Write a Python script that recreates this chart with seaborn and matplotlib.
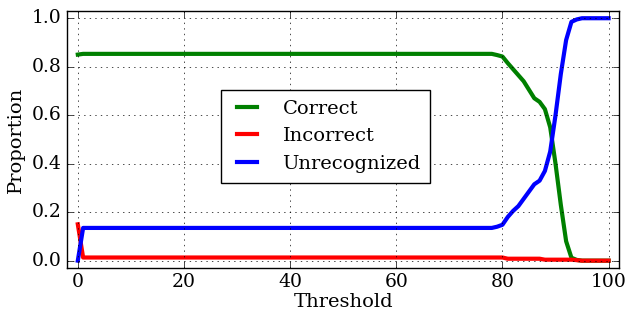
import numpy as np
import pandas as pd
import matplotlib
matplotlib.use('Agg')
import matplotlib.pyplot as plt
import seaborn as sns

threshold = list(range(0, 101))

# one value per threshold step
correct = ([0.85] + [0.853] * 78 +
           [0.848, 0.842, 0.815, 0.79, 0.765, 0.74, 0.705, 0.67, 0.655, 0.625,
            0.55, 0.40, 0.23, 0.08, 0.012, 0.003] + [0.0] * 6)
incorrect = ([0.15] + [0.013] * 80 + [0.008] * 7 + [0.004] * 6 + [0.002] + [0.0] * 6)
unrecognized = ([0.0] + [0.135] * 78 +
                [0.14, 0.148, 0.18, 0.205, 0.225, 0.255, 0.285, 0.315, 0.33, 0.37,
                 0.45, 0.60, 0.77, 0.91, 0.985, 0.995] + [1.0] * 6)

series = ['Correct', 'Incorrect', 'Unrecognized']
colors = {'Correct': '#008000', 'Incorrect': '#ff0000', 'Unrecognized': '#0000ff'}

df = pd.DataFrame({'Threshold': threshold, 'Correct': correct,
                   'Incorrect': incorrect, 'Unrecognized': unrecognized})
long = df.melt(id_vars='Threshold', value_vars=series, var_name='kind', value_name='Proportion')

plt.style.use('classic')
plt.rcParams['font.family'] = ['DejaVu Serif']
plt.rcParams['font.size'] = 13

fig = plt.figure(figsize=(6.28, 3.13), dpi=100, facecolor='white')
ax = fig.add_axes([0.107, 0.144, 0.879, 0.821])

sns.lineplot(data=long, x='Threshold', y='Proportion', hue='kind', hue_order=series,
             palette=colors, linewidth=3, ax=ax)

ax.set_xlim(-2, 102)
ax.set_ylim(-0.03, 1.03)
ax.set_xticks([0, 20, 40, 60, 80, 100])
ax.set_yticks([0.0, 0.2, 0.4, 0.6, 0.8, 1.0])
ax.grid(True, linestyle=':', color='black', linewidth=0.5)
ax.set_xlabel('Threshold', fontsize=14, labelpad=1)
ax.set_ylabel('Proportion', fontsize=14)
ax.tick_params(labelsize=13.5)

ax.legend(loc='upper left', bbox_to_anchor=(0.279, 0.693), borderaxespad=0,
          fontsize=14, frameon=True, fancybox=False,
          handlelength=1.65, handletextpad=1.0, borderpad=0.5)

fig.savefig('out.png', dpi=100, facecolor='white')
